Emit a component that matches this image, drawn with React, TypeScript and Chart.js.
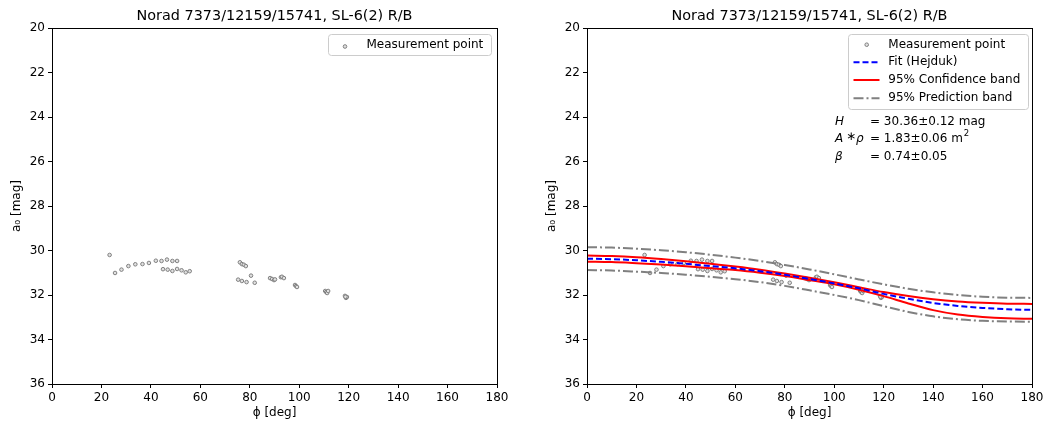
import React, { useEffect, useRef } from 'react';
import { Chart, registerables } from 'chart.js';
Chart.register(...registerables);

const TITLE = 'Norad 7373/12159/15741, SL-6(2) R/B';

const measPhi = [
  23.3, 25.5, 28.1, 30.9, 33.7, 36.6, 39.2, 42.0, 44.3, 46.5, 48.7, 50.6,
  44.9, 46.8, 48.7, 50.6, 52.4, 54.1, 55.7,
  76.0, 76.8, 77.6, 78.4, 75.3, 76.8, 78.7, 80.5, 82.0,
  88.2, 89.0, 89.8, 90.2, 92.6, 93.0, 93.8,
  98.3, 98.7, 99.1, 110.5, 110.9, 111.3, 111.7,
  118.5, 118.9, 119.3, 118.7,
];
const measMag = [
  30.20, 31.01, 30.86, 30.70, 30.62, 30.61, 30.56, 30.46, 30.47, 30.41, 30.47, 30.47,
  30.84, 30.86, 30.92, 30.83, 30.89, 30.98, 30.93,
  30.53, 30.61, 30.64, 30.70, 31.31, 31.37, 31.42, 31.13, 31.45,
  31.24, 31.28, 31.33, 31.30, 31.20, 31.18, 31.24,
  31.55, 31.60, 31.64, 31.82, 31.87, 31.91, 31.82,
  32.04, 32.13, 32.09, 32.08,
];

const curvePhi = [0, 10, 20, 30, 40, 50, 60, 70, 80, 90, 100, 110, 120, 130, 140, 150, 160, 170, 180];
const fitMag = [30.37, 30.39, 30.44, 30.51, 30.60, 30.70, 30.80, 30.93, 31.09, 31.28, 31.48, 31.70, 31.95, 32.17, 32.36, 32.49, 32.58, 32.64, 32.67];
const confUpper = [30.23, 30.25, 30.30, 30.38, 30.48, 30.60, 30.72, 30.86, 31.03, 31.22, 31.43, 31.65, 31.87, 32.05, 32.19, 32.29, 32.35, 32.39, 32.40];
const confLower = [30.50, 30.52, 30.57, 30.63, 30.71, 30.80, 30.88, 31.00, 31.15, 31.33, 31.52, 31.76, 32.05, 32.38, 32.68, 32.88, 32.99, 33.05, 33.07];
const predUpper = [29.85, 29.87, 29.92, 29.99, 30.08, 30.19, 30.32, 30.47, 30.65, 30.85, 31.07, 31.30, 31.52, 31.72, 31.88, 32.00, 32.08, 32.12, 32.13];
const predLower = [30.88, 30.90, 30.95, 31.01, 31.09, 31.18, 31.29, 31.42, 31.59, 31.79, 32.00, 32.23, 32.50, 32.76, 32.96, 33.09, 33.16, 33.19, 33.20];

const xTicks = [0, 20, 40, 60, 80, 100, 120, 140, 160, 180];
const yTicks = [20, 22, 24, 26, 28, 30, 32, 34, 36];

const legendLeft = ['Measurement point'];
const legendRight = ['Measurement point', 'Fit (Hejduk)', '95% Confidence band', '95% Prediction band'];

const FONT = '"DejaVu Sans", sans-serif';
const PT_FILL = '#e0e0e0';
const PT_EDGE = '#808080';
const PT_R = 1.8;

function pts(xs: number[], ys: number[]) {
  return xs.map((x, i) => ({ x, y: ys[i] }));
}

function makeScales() {
  return {
    x: {
      type: 'linear',
      min: 0,
      max: 180,
      afterBuildTicks: (s: any) => { s.ticks = xTicks.map((v) => ({ value: v })); },
      ticks: { color: '#000', font: { size: 12, family: FONT }, padding: 3, maxRotation: 0, autoSkip: false },
      grid: { drawOnChartArea: false, drawTicks: true, tickLength: 4, color: '#000' },
      border: { display: true, color: '#000', width: 1 },
      title: { display: true, text: 'ϕ [deg]', color: '#000', font: { size: 12, family: FONT }, padding: { top: 0, bottom: 7.8 } },
      afterFit: (s: any) => { s.height = 44; },
    },
    y: {
      type: 'linear',
      reverse: true,
      min: 20,
      max: 36,
      afterBuildTicks: (s: any) => { s.ticks = yTicks.map((v) => ({ value: v })); },
      ticks: { color: '#000', font: { size: 12, family: FONT }, padding: 3, autoSkip: false },
      grid: { drawOnChartArea: false, drawTicks: true, tickLength: 4, color: '#000' },
      border: { display: true, color: '#000', width: 1 },
      title: { display: true, text: 'a₀ [mag]', color: '#000', font: { size: 12, family: FONT }, padding: { top: 9.8, bottom: 0 } },
      afterFit: (s: any) => { s.width = 52; },
    },
  };
}

function drawMarker(ctx: CanvasRenderingContext2D, x: number, y: number) {
  ctx.beginPath();
  ctx.arc(x, y, PT_R, 0, Math.PI * 2);
  ctx.fillStyle = PT_FILL;
  ctx.fill();
  ctx.lineWidth = 1;
  ctx.strokeStyle = PT_EDGE;
  ctx.setLineDash([]);
  ctx.stroke();
}

const overlay = {
  id: 'overlay',
  afterDraw(chart: any, _args: any, opts: any) {
    const { ctx, chartArea: a } = chart;
    ctx.save();
    ctx.setLineDash([]);
    ctx.strokeStyle = '#000';
    ctx.lineWidth = 1;
    ctx.strokeRect(Math.round(a.left) + 0.5, Math.round(a.top) + 0.5, Math.round(a.right - a.left), Math.round(a.bottom - a.top));
    ctx.fillStyle = '#000';
    ctx.font = `14.4px ${FONT}`;
    ctx.textAlign = 'center';
    ctx.textBaseline = 'middle';
    ctx.fillText(TITLE, (a.left + a.right) / 2, 16);

    ctx.textAlign = 'left';
    ctx.font = `12px ${FONT}`;
    if (opts.kind === 'left') {
      ctx.beginPath();
      ctx.roundRect(328.5, 34.5, 163, 21, 3);
      ctx.fillStyle = 'rgba(255,255,255,0.8)';
      ctx.fill();
      ctx.strokeStyle = '#cccccc';
      ctx.stroke();
      drawMarker(ctx, 345, 46.5);
      ctx.fillStyle = '#000';
      ctx.fillText(legendLeft[0], 366.5, 44.7);
    } else {
      const bx = 313.5, by = 34.5;
      ctx.beginPath();
      ctx.roundRect(bx, by, 180, 75, 3);
      ctx.fillStyle = 'rgba(255,255,255,0.8)';
      ctx.fill();
      ctx.strokeStyle = '#cccccc';
      ctx.lineWidth = 1;
      ctx.stroke();
      const rows = [44.7, 62.3, 80.0, 98.3];
      const lx0 = 318.5, lx1 = 344.5;
      drawMarker(ctx, 331.7, rows[0]);
      const line = (y: number, color: string, dash: number[]) => {
        ctx.beginPath();
        ctx.strokeStyle = color;
        ctx.lineWidth = 2;
        ctx.setLineDash(dash);
        ctx.moveTo(lx0, y);
        ctx.lineTo(lx1, y);
        ctx.stroke();
        ctx.setLineDash([]);
      };
      line(rows[1], '#0000ff', [6, 3]);
      line(rows[2], '#ff0000', []);
      line(rows[3], '#808080', [10, 3, 2, 3]);
      ctx.fillStyle = '#000';
      legendRight.forEach((t, i) => ctx.fillText(t, 353.3, rows[i]));

      const ax = 300, ex = 335;
      const r = [121.7, 138.8, 156.7];
      ctx.font = `italic 12px ${FONT}`;
      ctx.fillText('H', ax, r[0]);
      ctx.fillText('A', ax, r[1]);
      ctx.fillText('ρ', ax + 21, r[1]);
      ctx.fillText('β', ax, r[2]);
      ctx.font = `12px ${FONT}`;
      ctx.fillText('∗', ax + 11, r[1] - 2);
      ctx.fillText('= 30.36±0.12 mag', ex, r[0]);
      ctx.fillText('= 1.83±0.06 m', ex, r[1]);
      const w = ctx.measureText('= 1.83±0.06 m').width;
      ctx.font = `8.5px ${FONT}`;
      ctx.fillText('2', ex + w + 1, r[1] - 5);
      ctx.font = `12px ${FONT}`;
      ctx.fillText('= 0.74±0.05', ex, r[2]);
    }
    ctx.restore();
  },
};

function measDataset() {
  return {
    label: 'Measurement point',
    data: pts(measPhi, measMag),
    showLine: false,
    pointRadius: PT_R,
    pointBorderWidth: 1,
    borderColor: PT_EDGE,
    backgroundColor: PT_FILL,
  };
}

function lineDataset(label: string, ys: number[], color: string, dash: number[]) {
  return {
    label,
    data: pts(curvePhi, ys),
    showLine: true,
    pointRadius: 0,
    borderColor: color,
    backgroundColor: color,
    borderWidth: 2,
    borderDash: dash,
    cubicInterpolationMode: 'monotone',
    fill: false,
  };
}

function makeConfig(kind: 'left' | 'right') {
  const datasets: any[] = kind === 'left'
    ? [measDataset()]
    : [
        lineDataset('Fit (Hejduk)', fitMag, '#0000ff', [6, 3]),
        lineDataset('95% Confidence band', confUpper, '#ff0000', []),
        lineDataset('95% Confidence band lower', confLower, '#ff0000', []),
        lineDataset('95% Prediction band', predUpper, '#808080', [10, 3, 2, 3]),
        lineDataset('95% Prediction band lower', predLower, '#808080', [10, 3, 2, 3]),
        measDataset(),
      ];
  return {
    type: 'scatter',
    data: { datasets },
    options: {
      responsive: false,
      animation: false,
      devicePixelRatio: 1,
      events: [],
      layout: { padding: { top: 28, left: 0, right: kind === 'left' ? 23 : 15, bottom: 0 } },
      plugins: {
        legend: { display: false },
        title: { display: false },
        tooltip: { enabled: false },
        overlay: { kind },
      },
      scales: makeScales(),
    },
    plugins: [overlay],
  } as any;
}

function Panel({ kind, left, width }: { kind: 'left' | 'right'; left: number; width: number }) {
  const ref = useRef<HTMLCanvasElement>(null);
  useEffect(() => {
    if (!ref.current) return;
    const chart = new Chart(ref.current, makeConfig(kind));
    return () => chart.destroy();
  }, [kind]);
  return (
    <canvas
      ref={ref}
      width={width}
      height={428}
      style={{ position: 'absolute', left, top: 0, width, height: 428, display: 'block' }}
    />
  );
}

export default function App() {
  Chart.defaults.font.family = FONT;
  return (
    <div style={{ position: 'fixed', left: 0, top: 0, width: 1047, height: 428, background: '#fff', overflow: 'hidden' }}>
      <Panel kind="left" left={0} width={520} />
      <Panel kind="right" left={535} width={512} />
    </div>
  );
}
